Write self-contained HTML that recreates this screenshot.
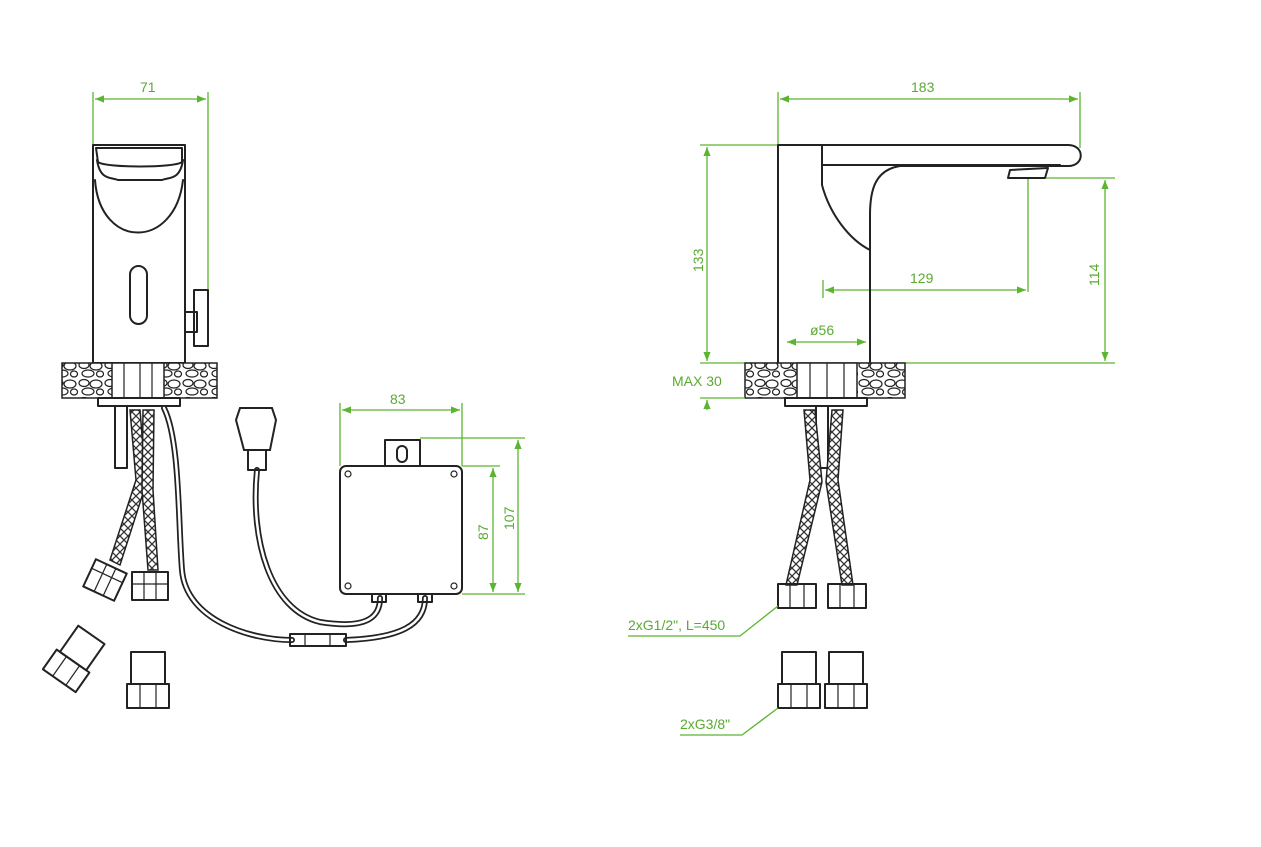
<!DOCTYPE html>
<html><head><meta charset="utf-8"><style>
html,body{margin:0;padding:0;background:#fff;}
svg{display:block}
text{font-family:"Liberation Sans",sans-serif;font-size:14px;fill:#5aaa32}
.k{fill:none;stroke:#222;stroke-width:2;stroke-linejoin:round;stroke-linecap:round}
.kt{fill:none;stroke:#222;stroke-width:1.2}
.g{fill:none;stroke:#5cb531;stroke-width:1.3}
.st{fill:#fff;stroke:#222;stroke-width:1.2}
.cab{fill:none;stroke:#222;stroke-width:6;stroke-linecap:round}
.cabw{fill:none;stroke:#fff;stroke-width:2.5;stroke-linecap:round}
</style></head><body>
<svg width="1261" height="847" viewBox="0 0 1261 847" xmlns="http://www.w3.org/2000/svg">
<defs>
<marker id="a" viewBox="0 0 10 10" refX="10" refY="5" markerWidth="7" markerHeight="7" orient="auto-start-reverse"><path d="M0,1 L10,5 L0,9 z" fill="#5cb531"/></marker>
<pattern id="stones" width="26" height="18" patternUnits="userSpaceOnUse">
<rect width="26" height="18" fill="#fff"/>
<ellipse cx="6" cy="5" rx="5" ry="3.5" class="st"/><ellipse cx="18" cy="6" rx="6" ry="4" class="st"/>
<ellipse cx="10" cy="13.5" rx="6" ry="3.5" class="st"/><ellipse cx="22" cy="14" rx="3.5" ry="3" class="st"/>
</pattern>
<pattern id="braid" width="8" height="8" patternUnits="userSpaceOnUse">
<rect width="8" height="8" fill="#fff"/><path d="M0,0 L8,8 M8,0 L0,8" stroke="#333" stroke-width="1.3"/>
</pattern>
</defs>

<!-- ===== LEFT FRONT VIEW ===== -->
<line class="g" x1="93" y1="92" x2="93" y2="145"/><line class="g" x1="208" y1="92" x2="208" y2="292"/>
<line class="g" x1="95" y1="99" x2="206" y2="99" marker-start="url(#a)" marker-end="url(#a)"/>
<text x="140" y="92">71</text>
<rect class="k" x="93" y="145" width="92" height="218"/>
<path class="k" d="M96,148 H182 V162 C175,168 105,168 98,162 Z"/>
<path class="k" d="M97,160 C100,180 110,177 118,180 H162 C170,177 180,180 183,160"/>
<path class="k" d="M95,180 C100,250 175,250 183,180"/>
<rect class="k" x="130" y="266" width="17" height="58" rx="8.5"/>
<rect class="k" x="185" y="312" width="12" height="20"/>
<rect class="k" x="194" y="290" width="14" height="56"/>
<rect x="62" y="363" width="155" height="35" fill="url(#stones)" stroke="#222" stroke-width="1.5"/>
<rect x="112" y="363" width="52" height="35" fill="#fff" stroke="#222" stroke-width="1.5"/>
<line class="kt" x1="124" y1="363" x2="124" y2="398"/><line class="kt" x1="140" y1="363" x2="140" y2="398"/><line class="kt" x1="152" y1="363" x2="152" y2="398"/>
<rect class="k" x="98" y="398" width="82" height="8"/>
<rect class="k" x="115" y="406" width="12" height="62"/>
<!-- hoses -->
<path d="M130,410 L136,480 L110,560 L120,565 L146,484 L140,410 Z" fill="url(#braid)" stroke="#222" stroke-width="1.5"/>
<path d="M143,410 L142,490 L148,570 L158,570 L153,490 L154,410 Z" fill="url(#braid)" stroke="#222" stroke-width="1.5"/>
<g transform="rotate(25 105 580)"><rect class="k" x="88" y="565" width="34" height="30" fill="#fff"/><line class="kt" x1="88" y1="575" x2="122" y2="575"/><line class="kt" x1="100" y1="565" x2="100" y2="595"/><line class="kt" x1="110" y1="565" x2="110" y2="595"/></g>
<rect class="k" x="132" y="572" width="36" height="28" fill="#fff"/><line class="kt" x1="132" y1="584" x2="168" y2="584"/><line class="kt" x1="144" y1="572" x2="144" y2="600"/><line class="kt" x1="156" y1="572" x2="156" y2="600"/>
<!-- fittings -->
<g transform="rotate(35 75 660)"><rect class="k" x="58" y="630" width="32" height="32" fill="#fff"/><rect class="k" x="54" y="662" width="40" height="24" fill="#fff"/><line class="kt" x1="66" y1="662" x2="66" y2="686"/><line class="kt" x1="82" y1="662" x2="82" y2="686"/></g>
<rect class="k" x="131" y="652" width="34" height="32"/><rect class="k" x="127" y="684" width="42" height="24"/><line class="kt" x1="140" y1="684" x2="140" y2="708"/><line class="kt" x1="156" y1="684" x2="156" y2="708"/>
<!-- cables -->
<path class="cab" d="M164,408 C180,440 178,520 182,570 C186,620 250,640 292,640"/>
<path class="cabw" d="M164,408 C180,440 178,520 182,570 C186,620 250,640 292,640"/>
<path class="cab" d="M346,640 C400,638 425,625 425,598"/><path class="cabw" d="M346,640 C400,638 425,625 425,598"/>
<path class="cab" d="M257,470 C250,540 270,610 320,622 C370,630 380,615 380,598"/><path class="cabw" d="M257,470 C250,540 270,610 320,622 C370,630 380,615 380,598"/>
<rect class="k" x="290" y="634" width="56" height="12" fill="#fff"/>
<line class="kt" x1="305" y1="634" x2="305" y2="646"/><line class="kt" x1="330" y1="634" x2="330" y2="646"/>
<path d="M236,420 L240,408 H272 L276,420 L270,450 H244 Z" fill="#fff" stroke="#222" stroke-width="2"/>
<rect class="k" x="248" y="450" width="18" height="20" fill="#fff"/>
<!-- box -->
<path class="k" d="M385,466 V440 H420 V466" fill="#fff"/>
<rect class="k" x="397" y="446" width="10" height="16" rx="5"/>
<rect class="k" x="340" y="466" width="122" height="128" rx="6" fill="#fff"/>
<circle class="kt" cx="348" cy="474" r="3"/><circle class="kt" cx="454" cy="474" r="3"/><circle class="kt" cx="348" cy="586" r="3"/><circle class="kt" cx="454" cy="586" r="3"/>
<rect class="k" x="372" y="594" width="14" height="8" fill="#fff"/><rect class="k" x="418" y="594" width="14" height="8" fill="#fff"/>
<line class="g" x1="340" y1="403" x2="340" y2="466"/><line class="g" x1="462" y1="403" x2="462" y2="466"/>
<line class="g" x1="342" y1="410" x2="460" y2="410" marker-start="url(#a)" marker-end="url(#a)"/>
<text x="390" y="404">83</text>
<line class="g" x1="462" y1="466" x2="500" y2="466"/><line class="g" x1="462" y1="594" x2="525" y2="594"/><line class="g" x1="420" y1="438" x2="525" y2="438"/>
<line class="g" x1="493" y1="468" x2="493" y2="592" marker-start="url(#a)" marker-end="url(#a)"/>
<line class="g" x1="518" y1="440" x2="518" y2="592" marker-start="url(#a)" marker-end="url(#a)"/>
<text transform="translate(488,540) rotate(-90)">87</text>
<text transform="translate(514,530) rotate(-90)">107</text>

<!-- ===== RIGHT SIDE VIEW ===== -->
<line class="g" x1="778" y1="92" x2="778" y2="145"/><line class="g" x1="1080" y1="92" x2="1080" y2="148"/>
<line class="g" x1="780" y1="99" x2="1078" y2="99" marker-start="url(#a)" marker-end="url(#a)"/>
<text x="911" y="92">183</text>
<line class="g" x1="700" y1="145" x2="778" y2="145"/><line class="g" x1="700" y1="363" x2="1115" y2="363"/>
<line class="g" x1="707" y1="147" x2="707" y2="361" marker-start="url(#a)" marker-end="url(#a)"/>
<text transform="translate(703,272) rotate(-90)">133</text>
<line class="g" x1="1030" y1="178" x2="1115" y2="178"/>
<line class="g" x1="1105" y1="180" x2="1105" y2="361" marker-start="url(#a)" marker-end="url(#a)"/>
<text transform="translate(1099,286) rotate(-90)">114</text>
<line class="g" x1="1028" y1="178" x2="1028" y2="292"/><line class="g" x1="823" y1="280" x2="823" y2="298"/>
<line class="g" x1="825" y1="290" x2="1026" y2="290" marker-start="url(#a)" marker-end="url(#a)"/>
<text x="910" y="283">129</text>
<line class="g" x1="787" y1="342" x2="866" y2="342" marker-start="url(#a)" marker-end="url(#a)"/>
<text x="810" y="335">ø56</text>
<path class="k" d="M778,363 V145 H1068 C1085,145 1085,166 1068,166 H900 C875,170 870,190 870,215 V363"/>
<path class="k" d="M822,145 V185 C830,215 850,240 870,250"/>
<path class="k" d="M822,165 H1060"/>
<path class="k" d="M1010,170 L1048,168 L1045,178 H1008 Z"/>
<rect x="745" y="363" width="160" height="35" fill="url(#stones)" stroke="#222" stroke-width="1.5"/>
<rect x="797" y="363" width="60" height="35" fill="#fff" stroke="#222" stroke-width="1.5"/>
<line class="kt" x1="810" y1="363" x2="810" y2="398"/><line class="kt" x1="827" y1="363" x2="827" y2="398"/><line class="kt" x1="844" y1="363" x2="844" y2="398"/>
<line class="g" x1="700" y1="398" x2="745" y2="398"/>
<text x="672" y="386">MAX 30</text>
<line class="g" x1="707" y1="410" x2="707" y2="400" marker-end="url(#a)"/>
<rect class="k" x="785" y="398" width="82" height="8"/>
<rect class="k" x="816" y="406" width="12" height="62"/>
<path d="M804,410 L810,480 L786,585 L797,585 L822,482 L815,410 Z" fill="url(#braid)" stroke="#222" stroke-width="1.5"/>
<path d="M832,410 L826,482 L842,585 L853,585 L838,480 L843,410 Z" fill="url(#braid)" stroke="#222" stroke-width="1.5"/>
<rect class="k" x="778" y="584" width="38" height="24" fill="#fff"/><line class="kt" x1="790" y1="584" x2="790" y2="608"/><line class="kt" x1="804" y1="584" x2="804" y2="608"/>
<rect class="k" x="828" y="584" width="38" height="24" fill="#fff"/><line class="kt" x1="840" y1="584" x2="840" y2="608"/><line class="kt" x1="854" y1="584" x2="854" y2="608"/>
<text x="628" y="630">2xG1/2", L=450</text>
<path class="g" d="M628,636 H740 L778,606"/>
<rect class="k" x="782" y="652" width="34" height="32"/><rect class="k" x="778" y="684" width="42" height="24"/><line class="kt" x1="791" y1="684" x2="791" y2="708"/><line class="kt" x1="807" y1="684" x2="807" y2="708"/>
<rect class="k" x="829" y="652" width="34" height="32"/><rect class="k" x="825" y="684" width="42" height="24"/><line class="kt" x1="838" y1="684" x2="838" y2="708"/><line class="kt" x1="854" y1="684" x2="854" y2="708"/>
<text x="680" y="729">2xG3/8"</text>
<path class="g" d="M680,735 H742 L778,708"/>
</svg>
</body></html>
